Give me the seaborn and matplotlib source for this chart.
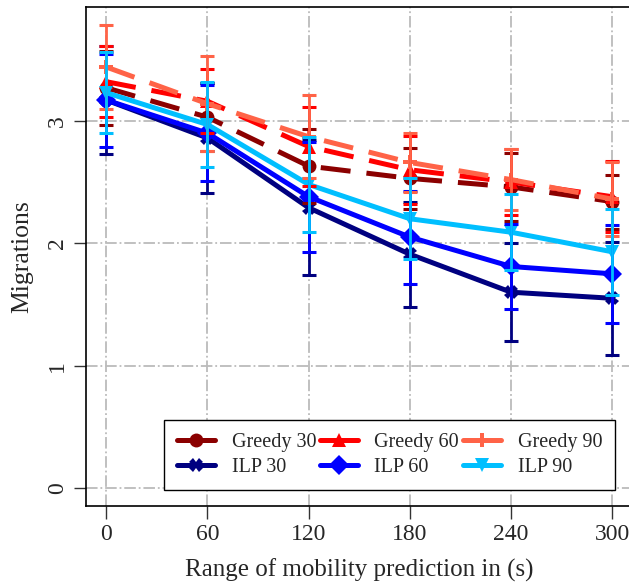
import matplotlib
matplotlib.use("Agg")
import matplotlib.pyplot as plt
from matplotlib.lines import Line2D
import seaborn as sns
import pandas as pd

# x positions: range of mobility prediction (s)
ranges = [0, 60, 120, 180, 240, 300]

# mean migrations per series
greedy30 = [3.27, 3.03, 2.63, 2.53, 2.46, 2.34]
greedy60 = [3.32, 3.16, 2.79, 2.60, 2.50, 2.38]
greedy90 = [3.44, 3.14, 2.87, 2.66, 2.52, 2.36]
ilp30 = [3.17, 2.86, 2.29, 1.91, 1.60, 1.55]
ilp60 = [3.17, 2.90, 2.38, 2.05, 1.81, 1.75]
ilp90 = [3.23, 2.97, 2.48, 2.20, 2.09, 1.93]

# error bar half widths
greedy30_err = [0.30, 0.28, 0.30, 0.25, 0.28, 0.22]
greedy60_err = [0.29, 0.26, 0.32, 0.28, 0.27, 0.29]
greedy90_err = [0.34, 0.39, 0.34, 0.24, 0.25, 0.30]
ilp30_err = [0.44, 0.45, 0.55, 0.43, 0.40, 0.46]
ilp60_err = [0.38, 0.39, 0.45, 0.38, 0.35, 0.40]
ilp90_err = [0.33, 0.35, 0.39, 0.33, 0.31, 0.35]

names = ["Greedy 30", "ILP 30", "Greedy 60", "ILP 60", "Greedy 90", "ILP 90"]
means = [greedy30, ilp30, greedy60, ilp60, greedy90, ilp90]
errs = [greedy30_err, ilp30_err, greedy60_err, ilp60_err, greedy90_err, ilp90_err]

colors = {"Greedy 30": "#8B0000", "ILP 30": "#000080",
          "Greedy 60": "#FF0000", "ILP 60": "#0000FF",
          "Greedy 90": "#FF6347", "ILP 90": "#00BFFF"}
markers = {"Greedy 30": "o", "ILP 30": "X", "Greedy 60": "^",
           "ILP 60": "D", "Greedy 90": "P", "ILP 90": "v"}
dashes = {n: ((6, 3.2) if n.startswith("Greedy") else "") for n in names}

rows = []
for n, m in zip(names, means):
    for x, y in zip(ranges, m):
        rows.append({"range": x, "migrations": y, "series": n})
df = pd.DataFrame(rows)

sns.set_style("white")
plt.rcParams['font.family'] = ['Liberation Serif', 'DejaVu Serif']

fig = plt.figure(figsize=(6.29, 5.86), dpi=100)
ax = fig.add_axes([0.1367, 0.1365, 0.869, 0.8515])

sns.lineplot(data=df, x="range", y="migrations", hue="series", style="series",
             hue_order=names, style_order=names, palette=colors,
             markers=markers, dashes=dashes, linewidth=3.6, markersize=10,
             markeredgewidth=0, legend=False, ax=ax, zorder=2)

for n, m, e in zip(names, means, errs):
    ax.errorbar(ranges, m, yerr=e, fmt="none", ecolor=colors[n],
                elinewidth=2.0, capsize=5, capthick=2.2, zorder=3)

ax.set_xlim(-12, 312)
ax.set_ylim(-0.147, 3.93)
ax.set_xticks(ranges)
ax.set_yticks([0, 1, 2, 3])
ax.grid(True, color="#bbbbbb", linestyle="-.", linewidth=1.3)
ax.tick_params(axis="both", labelsize=17, direction="out", length=9,
               width=1, color="#333333", pad=4, bottom=True, left=True)
for lab in ax.get_yticklabels():
    lab.set_rotation(90)
    lab.set_va("center")
for sp in ax.spines.values():
    sp.set_color("black")
    sp.set_linewidth(1.2)

ax.set_xlabel("Range of mobility prediction in (s)", fontsize=18, labelpad=10)
ax.set_ylabel("Migrations", fontsize=18.5, labelpad=10)

handles = [Line2D([0], [0], color=colors[n], marker=markers[n], linewidth=3.6,
                  markersize=10, markeredgewidth=0) for n in names]
leg = ax.legend(handles, names, ncol=3, loc="lower right",
                bbox_to_anchor=(0.968, 0.032), fontsize=14.5, frameon=True,
                fancybox=False, edgecolor="black", framealpha=1,
                handlelength=1.9, handletextpad=0.8, columnspacing=0.2,
                labelspacing=0.3, borderpad=0.65, borderaxespad=0)
leg.get_frame().set_linewidth(1.0)

fig.savefig("out.png", dpi=100)
